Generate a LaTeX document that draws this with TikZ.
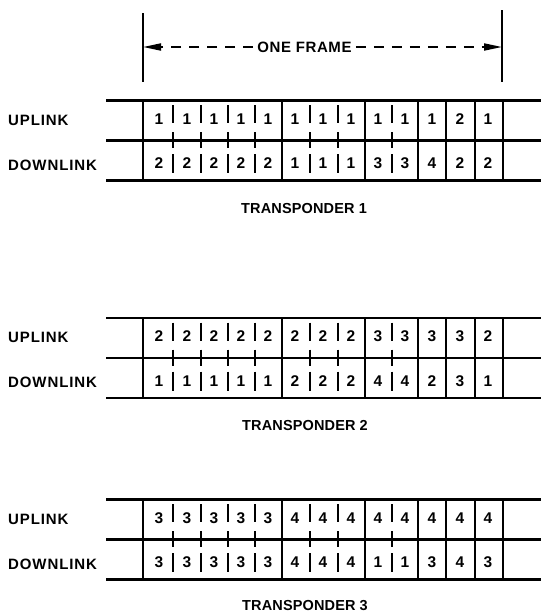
\documentclass[tikz,border=0pt]{standalone}
\usepackage{fontspec}
\setmainfont{Liberation Sans}
\newfontfamily\labfont[LetterSpace=6]{Liberation Sans Bold}
\newfontfamily\titfont[LetterSpace=1]{Liberation Sans Bold}
\newfontfamily\framefont[LetterSpace=4]{Liberation Sans Bold}
\newfontfamily\digfont{Liberation Sans Bold}
\usetikzlibrary{arrows.meta}
\def\slotx{{159,187,214,241,268,295,323,351,378,405,432,460,488}}
\newcommand\transponder[4]{%
\begin{scope}[shift={(0,#1)}]
  \foreach \yy in {0,40,80} \draw[grid] (106,\yy) -- (541,\yy);
  \foreach \xx in {143,282,365,418,446,475,503} \draw[grid] (\xx,0) -- (\xx,80);
  \foreach \xx in {172.5,201,227.5,255,310,338,392} {
     \draw[divider] (\xx,4.5) -- (\xx,22.5);
     \draw[divider] (\xx,31.5) -- (\xx,47.5);
     \draw[divider] (\xx,53.5) -- (\xx,72.5);}
  \node[linklabel] (#2up) at (8,19.5) {UPLINK};
  \node[linklabel] (#2down) at (8,64.5) {DOWNLINK};
  \foreach \d [count=\i] in {#3} {\pgfmathsetmacro\xx{\slotx[\i-1]}
     \node[digit] (#2u\i) at (\xx,18.5) {\d};}
  \foreach \d [count=\i] in {#4} {\pgfmathsetmacro\xx{\slotx[\i-1]}
     \node[digit] (#2d\i) at (\xx,63) {\d};}
\end{scope}}
\begin{document}
\begin{tikzpicture}[x=1pt,y=-1pt,
  grid/.style={line width=2.2pt},
  divider/.style={line width=2pt},
  digit/.style={font=\digfont\fontsize{15.5}{15.5}\selectfont, inner sep=0pt},
  linklabel/.style={font=\labfont\fontsize{15}{15}\selectfont, anchor=west, inner sep=0pt},
  title/.style={font=\titfont\fontsize{14.5}{15}\selectfont, inner sep=0pt},
  framearrow/.style={line width=1.8pt, dash pattern=on 10pt off 8pt, -{Triangle[length=18pt,width=7pt]}}]
\useasboundingbox (0,0) rectangle (541,613);
% frame marker
\coordinate (fltop) at (143,13);
\coordinate (flbot) at (143,82);
\coordinate (frtop) at (502,10);
\coordinate (frbot) at (502,82);
\coordinate (fl) at (143,47);
\coordinate (fr) at (502,47);
\draw[grid] (fltop) -- (flbot);
\draw[grid] (frtop) -- (frbot);
\node[font=\framefont\fontsize{15}{15}\selectfont, inner sep=0pt, inner xsep=4pt] (oneframe) at (304.5,47) {ONE FRAME};
\draw[framearrow] (oneframe.west) -- (fl);
\draw[framearrow] (oneframe.east) -- (fr);
% transponders
\transponder{100.5}{ta}{1,1,1,1,1,1,1,1,1,1,1,2,1}{2,2,2,2,2,1,1,1,3,3,4,2,2}
\node[title] (tatitle) at (304,209) {TRANSPONDER 1};
\transponder{318}{tb}{2,2,2,2,2,2,2,2,3,3,3,3,2}{1,1,1,1,1,2,2,2,4,4,2,3,1}
\node[title] (tbtitle) at (305,426) {TRANSPONDER 2};
\transponder{499.5}{tc}{3,3,3,3,3,4,4,4,4,4,4,4,4}{3,3,3,3,3,4,4,4,1,1,3,4,3}
\node[title] (tctitle) at (305,605.5) {TRANSPONDER 3};
\end{tikzpicture}
\end{document}
